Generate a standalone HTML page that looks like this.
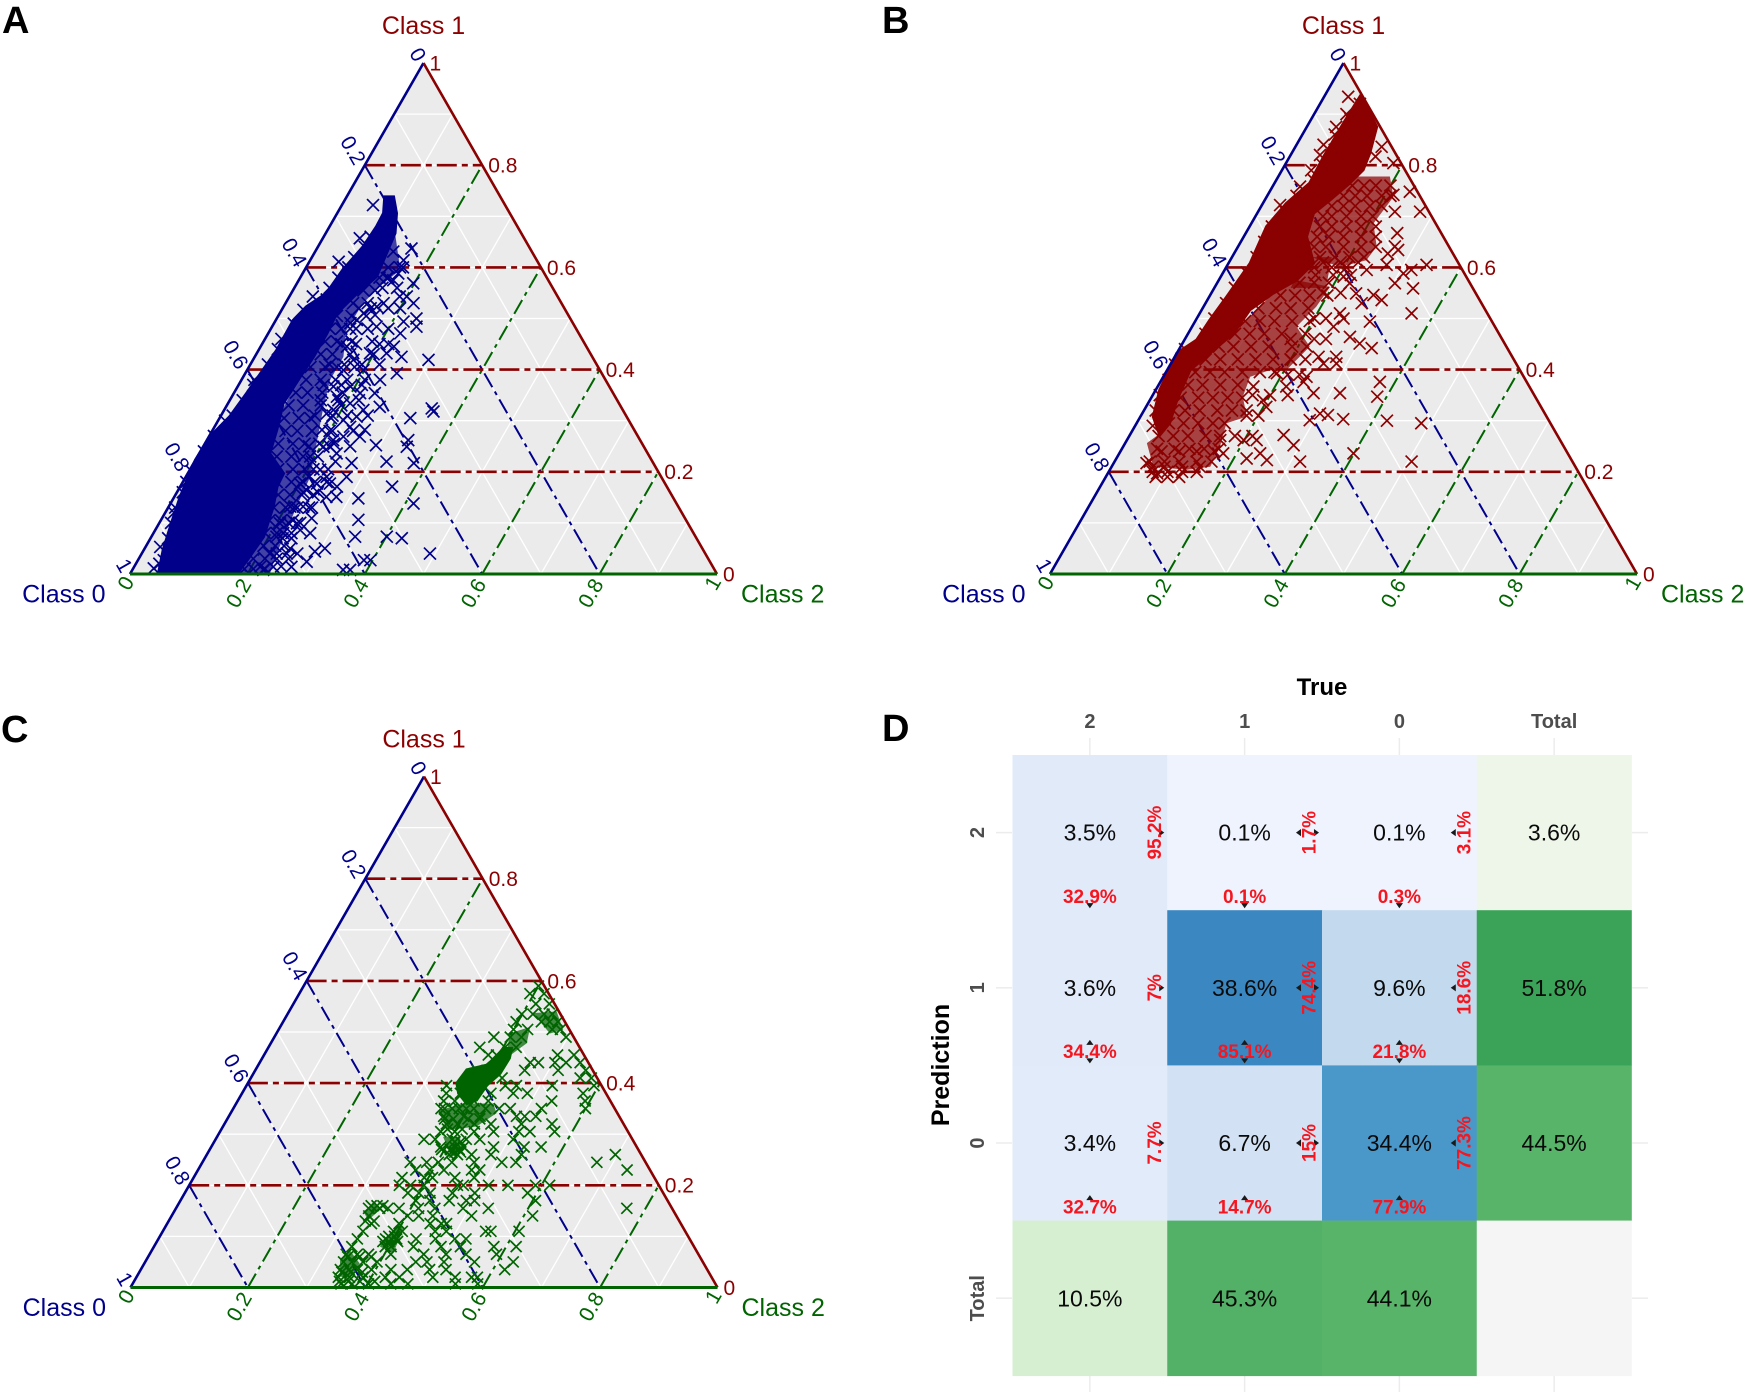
<!DOCTYPE html>
<html lang="en">
<head>
<meta charset="utf-8">
<title>Ternary plots and confusion matrix</title>
<style>
html,body{margin:0;padding:0;background:#fff;width:1748px;height:1395px;overflow:hidden}
svg{display:block;font-family:"Liberation Sans",sans-serif}
</style>
</head>
<body>
<svg id="figure" xmlns="http://www.w3.org/2000/svg" width="1748" height="1395" viewBox="0 0 1748 1395">
  <g font-size="38" font-weight="700" fill="#000">
    <text x="2" y="33">A</text>
    <text x="882" y="33">B</text>
    <text x="1" y="742">C</text>
    <text x="882" y="741">D</text>
  </g>
  <g id="panel-a"></g>
  <g id="panel-b"></g>
  <g id="panel-c"></g>
  <g id="panel-d"></g>
</svg>
<script>
// Ternary axis values
const ternaryMajorTicks = [0.2, 0.4, 0.6, 0.8];
const ternaryGridTicks = [0.1, 0.2, 0.3, 0.4, 0.5, 0.6, 0.7, 0.8, 0.9];
const ternaryTickLabels = ['0', '0.2', '0.4', '0.6', '0.8', '1'];

// Saturated cloud outlines: [class 2, class 1]
const coreA = [[.048,.001],[.033,.047],[.021,.099],[.01,.151],[0,.223],[.002,.269],[.016,.308],[.022,.354],[.027,.399],[.031,.438],[.03,.497],[.039,.523],[.06,.549],[.065,.595],[.077,.641],[.08,.68],[.079,.706],[.065,.738],[.08,.738],[.101,.706],[.118,.667],[.123,.628],[.129,.582],[.112,.549],[.097,.51],[.1,.471],[.1,.425],[.097,.386],[.094,.334],[.109,.282],[.12,.236],[.163,.197],[.165,.171],[.178,.132],[.191,.073],[.186,.027],[.182,.001]];
const coreB = [[.051,.272],[.022,.308],[.007,.36],[0,.432],[.021,.458],[.024,.497],[.03,.543],[.037,.608],[.029,.68],[.04,.725],[.06,.765],[.058,.817],[.059,.882],[.061,.934],[.088,.908],[.119,.875],[.133,.823],[.138,.791],[.128,.765],[.111,.732],[.096,.706],[.107,.66],[.145,.608],[.132,.575],[.105,.549],[.082,.517],[.077,.471],[.059,.438],[.039,.399],[.046,.34],[.056,.295]];
const coreC = [[.356,.4],[.36,.426],[.389,.435],[.398,.452],[.401,.468],[.415,.468],[.421,.449],[.42,.419],[.409,.396],[.406,.367],[.393,.36],[.369,.38]];

// Partly covered cloud outlines: lists of [class 2, class 1]
const haloA = [[[.101,.706],[.118,.667],[.163,.595],[.147,.569],[.132,.53],[.13,.477],[.151,.425],[.151,.38],[.166,.327],[.19,.256],[.212,.19],[.218,.132],[.224,.086],[.23,.04],[.238,.001],[.18,.001],[.1,.3],[.09,.5]]];
const haloB = [
  [[.12,.775],[.133,.778],[.19,.778],[.216,.738],[.208,.686],[.236,.641],[.232,.614],[.194,.601],[.12,.625],[.096,.693],[.105,.735]],
  [[.105,.549],[.132,.575],[.196,.562],[.192,.523],[.178,.484],[.22,.445],[.203,.399],[.175,.399],[.148,.386],[.155,.347],[.181,.308],[.153,.295],[.165,.249],[.168,.21],[.131,.204],[.071,.21],[.037,.256],[.05,.275],[.046,.34],[.039,.399],[.059,.438],[.077,.471]],
  [[.125,.62],[.17,.62],[.19,.56],[.13,.56]]
];
const haloC = [
  [[.417,.537],[.456,.54],[.485,.504],[.466,.497]],
  [[.385,.295],[.414,.295],[.432,.263],[.419,.256]],
  [[.384,.093],[.396,.126],[.408,.113],[.414,.067],[.385,.08]],
  [[.33,.054],[.337,.073],[.367,.047],[.363,.021],[.346,.021]],
  [[.323,.148],[.331,.165],[.349,.152],[.339,.132]],
  [[.353,.347],[.387,.36],[.438,.36],[.453,.341],[.432,.315],[.385,.308]],
  [[.397,.497],[.426,.51],[.436,.478],[.416,.449]]
];

// Points as rows: first number is class 1, the rest are class 2 values at that level
const rowsA = [
[.01,.19,.205,.225],[.03,.195,.215,.235,.255],[.055,.2,.22,.235],[.08,.19,.21,.235],[.105,.185,.205,.225],[.13,.18,.2,.22,.24],[.155,.175,.195,.215,.235],[.18,.16,.185,.205,.225,.245],[.205,.15,.175,.195,.21,.235],[.23,.135,.16,.18,.205],[.255,.125,.15,.17,.195,.22],[.28,.125,.145,.17,.205],[.305,.11,.135,.155,.19],[.33,.105,.13,.16,.195],[.355,.105,.125,.15,.185],[.38,.11,.135,.16,.18,.21],[.405,.105,.13,.15,.18],[.43,.11,.13,.16,.2],[.455,.105,.125,.15,.185],[.48,.1,.12,.145],[.505,.1,.125,.15],[.53,.115,.14],[.555,.12,.14],[.58,.135,.15],[.6,.14,.16],
[.722,.053],[.614,.159],[.637,.161],[.631,.133],[.579,.148],[.575,.161],[.588,.163],[.569,.198],[.543,.2,.188],[.53,.218,.167],[.523,.159],[.507,.164],[.497,.138],[.51,.143],[.491,.13],[.484,.178,.246],[.494,.219],[.5,.238],[.471,.225],[.445,.227,.147],[.432,.221,.193],[.425,.25],[.419,.299,.171],[.399,.198,.164],[.393,.258],[.38,.236],[.354,.24,.215],[.367,.163,.192],[.327,.262],[.321,.237,.186],[.308,.232],[.305,.325],[.324,.352],[.318,.358],[.282,.259,.186],[.288,.231],[.269,.229,.257],[.314,.178],[.236,.234],[.249,.205,.347],[.252,.293],[.262,.343,.215],[.217,.375,.269],[.22,.327],[.19,.274],[.177,.252,.23,.201],[.151,.259,.276],[.171,.361,.267],[.148,.315],[.138,.414],[.109,.255],[.132,.229,.207],[.106,.336],[.073,.347,.401,.213],[.08,.267,.221],[.086,.247],[.07,.428],[.05,.248,.307],[.044,.293],[.04,.491,.247,.218],[.024,.289],[.027,.385,.396],[.014,.268,.237],[.008,.359,.371,.223],[.347,.179],[.334,.208],[.301,.213],[.23,.192],[.204,.222],[.099,.206,.235],[.164,.219],
[.053,.025],[.011,.035],[.027,.044],[.543,.04],[.611,.05],[.657,.063],[.517,.037],[.12,.015],[.18,.006],[.3,.012],[.38,.022],[.46,.028],
[.02,.04],[.07,.03],[.1,.02],[.13,.012],[.16,.01],[.2,.006],[.24,.006],[.27,.008],[.31,.02],[.34,.022],[.37,.025],[.41,.03],[.44,.032],[.49,.034],[.56,.06],[.58,.065],[.6,.072],[.62,.072],[.64,.08],[.66,.08],
[.6,.165],[.56,.15,.175],[.52,.13,.15,.18,.2],[.48,.135,.165,.2],[.45,.135,.16,.2,.215],[.41,.135,.16,.19,.22],[.37,.145,.175,.21],[.34,.155,.185,.22],[.31,.16,.19,.215,.25],[.28,.17,.2,.24],[.25,.18,.215,.25],[.22,.2,.24],[.19,.21,.24],[.16,.215,.24],[.13,.215,.245],[.1,.22,.24],[.07,.225,.24],[.04,.23,.265],[.015,.215,.25]
];
const rowsB = [
[.76,.135,.155,.175,.2],[.74,.13,.15,.17,.195,.21],[.72,.12,.14,.16,.185,.205],[.7,.115,.13,.155,.18,.2],[.68,.12,.14,.165,.19,.215],[.66,.125,.145,.17,.2,.225],[.64,.13,.15,.18,.21,.235],[.62,.15,.175,.2,.225],[.6,.15,.18,.205],
[.57,.14,.165,.19],[.545,.12,.145,.17,.2],[.52,.095,.125,.15,.18],[.495,.085,.11,.135,.165,.195],[.47,.08,.105,.13,.16,.2],[.445,.065,.09,.12,.15,.19,.215],[.42,.055,.08,.11,.14,.17,.2],[.395,.05,.075,.1,.13,.16,.185],[.37,.05,.075,.105,.135],[.345,.05,.08,.105,.13,.155],[.32,.05,.07,.095,.125,.15,.175],[.295,.055,.08,.105,.13,.15],[.27,.05,.075,.1,.13,.155],[.245,.06,.09,.115,.14,.165],[.22,.06,.085,.11,.14,.165],[.2,.075,.1,.125,.15],
[.934,.041],[.875,.05],[.84,.046],[.758,.047],[.722,.031],[.836,.147],[.817,.146],[.804,.183],[.748,.239],[.709,.276,.233],[.742,.214],[.667,.258],[.641,.267],[.634,.276],[.627,.262],[.605,.271,.339],[.595,.242,.318],[.588,.308],[.569,.303,.226],[.559,.339],[.51,.361,.239],[.536,.297],[.546,.278],[.549,.247],[.582,.209],[.53,.266],[.5,.25],[.484,.241],[.494,.298],[.464,.279],[.451,.302],[.442,.327],[.425,.245,.275],[.412,.282,.26],[.386,.244],[.354,.272,.317],[.376,.244,.374],[.347,.384],[.314,.303],[.311,.318],[.301,.292],[.303,.348],[.3,.424],[.295,.485],[.272,.262],[.252,.289],[.236,.399,.24,.177],[.22,.506,.316],[.223,.258],[.226,.222],[.262,.221,.199,.159],[.197,.084],[.217,.056],[.327,.205],[.34,.193],[.367,.163,.219],[.393,.19],
[.29,.03],[.32,.02],[.35,.012],[.38,.012],[.41,.008],[.44,.01],[.47,.03],[.5,.03],[.53,.035],[.56,.035],[.59,.04],[.62,.042],[.65,.04],[.68,.038],[.71,.045],[.74,.05],[.77,.065],[.8,.065],[.83,.07],[.86,.07],[.89,.067],[.92,.068],[.79,.05],[.82,.05],[.86,.055],[.9,.055],
[.19,.085,.105,.125],[.21,.07,.09,.12,.15],[.24,.07,.1,.13,.16],
[.585,.16,.19,.22],[.61,.13,.16,.19,.22],[.55,.19,.22],[.5,.2,.22],[.46,.18,.22,.24],[.42,.2,.225],[.39,.21,.23],[.35,.17,.2,.23],[.31,.18,.2],[.27,.18,.21]
];
const rowsC = [
[.59,.4],[.575,.393,.417],[.555,.413,.436],[.535,.399,.418,.437,.451],[.52,.397,.44,.454,.468],[.505,.4,.424,.466,.48],[.49,.374,.402,.421,.497],[.47,.36,.403,.422],
[.455,.382,.396,.5,.528],[.44,.461,.475,.503,.522,.546],[.425,.378,.459,.516,.563],[.41,.381,.428,.561,.58],[.395,.341,.441,.46,.521,.592],[.38,.348,.372,.424,.462,.486,.581],
[.365,.351,.37,.403,.427,.535,.592],[.35,.354,.373,.397,.43,.453,.472,.525,.6],[.335,.366,.4,.428,.49,.504,.523],[.32,.378,.397,.426,.454,.506,.558],
[.305,.376,.4,.433,.466,.509,.528,.57],[.29,.355,.374,.403,.427,.45,.507],[.285,.41,.42],[.275,.391,.415,.43,.481,.533,.562],[.265,.415,.42,.43],[.26,.413,.427,.451,.484,.536,.696],
[.245,.354,.382,.402,.425,.463,.51,.534,.672],[.23,.371,.395,.419,.466,.48,.731],[.215,.355,.393,.407,.445,.478],[.2,.358,.377,.4,.457,.467,.51,.543,.59,.614],
[.185,.38,.399,.418,.456,.494,.584],[.17,.401,.425,.458,.487,.501,.605],[.155,.328,.347,.361,.38,.413,.441,.489,.532,.768],[.14,.336,.402,.421,.445,.511,.615],
[.125,.348,.395,.448,.467,.476],[.11,.341,.393,.408,.464,.483,.55,.559,.607],[.095,.339,.387,.406,.439,.472,.505,.524],[.08,.337,.394,.404,.442,.489,.522,.579,.617],
[.065,.335,.354,.373,.411,.467,.505,.539,.591],[.05,.338,.352,.371,.395,.461,.48,.509,.561,.627],[.035,.34,.355,.369,.393,.426,.454,.492,.52,.62],
[.02,.344,.363,.386,.424,.448,.505,.543,.571,.581],[.007,.355,.374,.402,.44,.469,.55,.588],
[.16,.33,.34,.35],[.13,.335,.35],[.09,.385,.395,.41],[.1,.39,.4],[.06,.34,.36,.38],[.03,.345,.36,.38],[.012,.35,.365,.385,.41],[.27,.395,.41,.425],[.33,.37,.385,.41,.43],[.35,.36,.385,.41],[.31,.385,.41]
];

// Confusion matrix values
const trueLabels = ['2', '1', '0', 'Total'];
const predictionLabels = ['2', '1', '0', 'Total'];
const cellPercent = [[3.5, 0.1, 0.1], [3.6, 38.6, 9.6], [3.4, 6.7, 34.4]];
const rowPercent = [[95.2, 1.7, 3.1], [7, 74.4, 18.6], [7.7, 15, 77.3]];
const columnPercent = [[32.9, 0.1, 0.3], [34.4, 85.1, 21.8], [32.7, 14.7, 77.9]];
const rowTotals = [3.6, 51.8, 44.5];
const columnTotals = [10.5, 45.3, 44.1];

const NS = 'http://www.w3.org/2000/svg';
const NAVY = '#00008b', MAROON = '#8b0000', FOREST = '#006400';

function make(parent, tag, attrs, text) {
  const el = document.createElementNS(NS, tag);
  for (const k in attrs) el.setAttribute(k, attrs[k]);
  if (text !== undefined) el.textContent = text;
  parent.appendChild(el);
  return el;
}

function drawTernary(root, p, halos, core, rows, color) {
  const X = (c2, c1) => p.x0 + (c2 + c1 / 2) * p.w;
  const Y = c1 => p.y0 - c1 * p.h;
  const apex = [X(0, 1), Y(1)], left = [X(0, 0), Y(0)], right = [X(1, 0), Y(0)];

  const bg = make(root, 'polygon', {points: [apex, left, right].map(q => q.join(',')).join(' '), fill: '#ebebeb'});
  
  

  const segment = (a, b, stroke, width, dash) => {
    const attrs = {x1: a[0], y1: a[1], x2: b[0], y2: b[1], stroke: stroke, 'stroke-width': width, fill: 'none'};
    if (dash) attrs['stroke-dasharray'] = dash;
    return make(root, 'line', attrs);
  };
  ternaryGridTicks.forEach(v => {
    const g1 = segment([X(0, v), Y(v)], [X(1 - v, v), Y(v)], '#fff', 1.3);
    
    
    const g2 = segment([X(v, 0), Y(0)], [X(v, 1 - v), Y(1 - v)], '#fff', 1.3);
    
    
    const g0 = segment([X(0, 1 - v), Y(1 - v)], [X(1 - v, 0), Y(0)], '#fff', 1.3);
    
    
  });
  ternaryMajorTicks.forEach(v => {
    const blue = segment([X(0, 1 - v), Y(1 - v)], [X(1 - v, 0), Y(0)], NAVY, 2, '16 5 4 5');
    
    
    const green = segment([X(v, 0), Y(0)], [X(v, 1 - v), Y(1 - v)], FOREST, 2, '16 5 4 5');
    
    
  });
  ternaryMajorTicks.forEach(v => {
    const red = segment([X(0, v), Y(v)], [X(1 - v, v), Y(v)], MAROON, 2.6, '20 5 6 5');
    
    
  });

  halos.forEach(outline => {
    const halo = make(root, 'polygon', {points: outline.map(q => X(q[0], q[1]) + ',' + Y(q[1])).join(' '), fill: color, 'fill-opacity': 0.72});
    
    
  });

  const cloud = make(root, 'polygon', {points: core.map(q => X(q[0], q[1]) + ',' + Y(q[1])).join(' '), fill: color, stroke: color, 'stroke-width': 3});
  
  

  const size = p.mark;
  rows.forEach(row => {
    const c1 = row[0];
    row.slice(1).forEach(c2 => {
      const px = X(c2, c1), py = Y(c1);
      const mark = make(root, 'path', {d: `M${px - size},${py - size}L${px + size},${py + size}M${px - size},${py + size}L${px + size},${py - size}`, stroke: color, 'stroke-width': 1.7, fill: 'none'});
      
      
    });
  });

  const leftAxis = segment(left, apex, NAVY, 2.6);
  
  
  const rightAxis = segment(apex, right, MAROON, 2.6);
  
  
  const bottomAxis = segment(left, right, FOREST, 3);
  
  

  ternaryTickLabels.forEach(label => {
    const v = parseFloat(label);
    const isEnd = v === 0 || v === 1;
    // Class 0 labels along the left edge
    const bx = X(0, 1 - v) + (isEnd ? -5.5 : -11.5), by = Y(1 - v) + (isEnd ? -8.5 : -15);
    const blue = make(root, 'text', {x: bx, y: by, dy: '.35em', 'text-anchor': 'middle', 'font-size': 21, fill: NAVY, transform: `rotate(60 ${bx} ${by})`}, label);
    
    
    // Class 1 labels along the right edge
    const rx = X(1 - v, v) + 6, ry = Y(v);
    const red = make(root, 'text', {x: rx, y: ry, dy: '.35em', 'font-size': 21, fill: MAROON}, label);
    
    
    // Class 2 labels along the bottom edge
    const gx = X(v, 0) + (isEnd ? -4.5 : -9), gy = Y(0) + (isEnd ? 9 : 19);
    const green = make(root, 'text', {x: gx, y: gy, dy: '.35em', 'text-anchor': 'middle', 'font-size': 21, fill: FOREST, transform: `rotate(-60 ${gx} ${gy})`}, label);
    
    
  });

  const top = make(root, 'text', {x: apex[0], y: apex[1] - 29, 'text-anchor': 'middle', 'font-size': 25, fill: MAROON}, 'Class 1');
  
  
  const lbl0 = make(root, 'text', {x: left[0] - 24.5, y: left[1] + 28.5, 'text-anchor': 'end', 'font-size': 25, fill: NAVY}, 'Class 0');
  
  
  const lbl2 = make(root, 'text', {x: right[0] + 24, y: right[1] + 28.5, 'font-size': 25, fill: FOREST}, 'Class 2');
  
  
}

drawTernary(document.getElementById('panel-a'), {x0: 130, y0: 574, w: 587, h: 511, mark: 6}, haloA, coreA, rowsA, NAVY);
drawTernary(document.getElementById('panel-b'), {x0: 1050, y0: 574, w: 587, h: 511, mark: 6}, haloB, coreB, rowsB, MAROON);
drawTernary(document.getElementById('panel-c'), {x0: 130.5, y0: 1287.5, w: 587, h: 511, mark: 5.5}, haloC, coreC, rowsC, FOREST);

// Colour scales for the confusion matrix
const blueStops = [[0, '#f0f4ff'], [0.1, '#eff3fe'], [3.6, '#e0eaf9'], [6.7, '#d2e1f3'], [9.6, '#c3d9ee'], [34.4, '#4a98ca'], [38.6, '#3b87c1']];
const greenStops = [[3.6, '#edf6e8'], [10.5, '#d7efd1'], [44.1, '#57b468'], [44.5, '#57b468'], [45.3, '#52b166'], [51.8, '#3aa357']];
function hexToRgb(h) { return [1, 3, 5].map(i => parseInt(h.substr(i, 2), 16)); }
function scale(stops, v) {
  for (let i = 1; i < stops.length; i++) {
    if (v <= stops[i][0]) {
      const t = (v - stops[i - 1][0]) / (stops[i][0] - stops[i - 1][0]);
      const a = hexToRgb(stops[i - 1][1]), b = hexToRgb(stops[i][1]);
      return 'rgb(' + a.map((c, k) => Math.round(c + (b[k] - c) * Math.max(0, t))).join(',') + ')';
    }
  }
  return stops[stops.length - 1][1];
}

(function drawMatrix() {
  const root = document.getElementById('panel-d');
  const x0 = 1012.5, y0 = 755, cw = 154.75, ch = 155.2;
  const cx = c => x0 + (c + 0.5) * cw;
  const cy = r => y0 + (r + 0.5) * ch;

  trueLabels.forEach((label, c) => {
    [[738, 755], [1376, 1392]].forEach(s => {
      const tick = make(root, 'line', {x1: cx(c), x2: cx(c), y1: s[0], y2: s[1], stroke: '#ececec', 'stroke-width': 1.5});
      
      
    });
    const t = make(root, 'text', {x: cx(c), y: 728, 'text-anchor': 'middle', 'font-size': 20, 'font-weight': 700, fill: '#4d4d4d'}, label);
    
    
  });
  predictionLabels.forEach((label, r) => {
    [[996, 1012], [1632, 1648]].forEach(s => {
      const tick = make(root, 'line', {x1: s[0], x2: s[1], y1: cy(r), y2: cy(r), stroke: '#ececec', 'stroke-width': 1.5});
      
      
    });
    const t = make(root, 'text', {x: 977, y: cy(r), dy: '.35em', 'text-anchor': 'middle', 'font-size': 20, 'font-weight': 700, fill: '#4d4d4d', transform: `rotate(-90 977 ${cy(r)})`}, label);
    
    
  });

  const title = make(root, 'text', {x: 1322, y: 695, 'text-anchor': 'middle', 'font-size': 24, 'font-weight': 700, fill: '#000'}, 'True');
  
  
  const ytitle = make(root, 'text', {x: 940, y: 1065, dy: '.35em', 'text-anchor': 'middle', 'font-size': 25, 'font-weight': 700, fill: '#000', transform: 'rotate(-90 940 1065)'}, 'Prediction');
  
  

  const tile = (c, r, fill) => {
    const el = make(root, 'rect', {x: x0 + c * cw, y: y0 + r * ch, width: cw + 0.3, height: ch + 0.3, fill: fill});
    
    
  };
  const value = (c, r, v) => {
    const el = make(root, 'text', {x: cx(c), y: cy(r), dy: '.35em', 'text-anchor': 'middle', 'font-size': 23, fill: '#0a0a0a'}, v + '%');
    
    
  };

  cellPercent.forEach((row, r) => row.forEach((v, c) => tile(c, r, scale(blueStops, v))));
  rowTotals.forEach((v, r) => tile(3, r, scale(greenStops, v)));
  columnTotals.forEach((v, c) => tile(c, 3, scale(greenStops, v)));
  tile(3, 3, '#f5f5f5');

  const arrow = (px, py, dir) => {
    const s = 3.6;
    const pts = {
      up: [[px - s, py + s * 0.7], [px + s, py + s * 0.7], [px, py - s * 0.7]],
      down: [[px - s, py - s * 0.7], [px + s, py - s * 0.7], [px, py + s * 0.7]],
      left: [[px + s * 0.7, py - s], [px + s * 0.7, py + s], [px - s * 0.7, py]],
      right: [[px - s * 0.7, py - s], [px - s * 0.7, py + s], [px + s * 0.7, py]]
    }[dir];
    const el = make(root, 'polygon', {points: pts.map(q => q.join(',')).join(' '), fill: '#1a1a1a'});
    
    
  };

  cellPercent.forEach((row, r) => row.forEach((v, c) => {
    value(c, r, v);
    const right = x0 + (c + 1) * cw, bottom = y0 + (r + 1) * ch;
    if (c < 2) arrow(right - 5.5, cy(r), 'right');
    if (c > 0) arrow(right - 23.5, cy(r), 'left');
    if (r > 0) arrow(cx(c), bottom - 23, 'up');
    if (r < 2) arrow(cx(c), bottom - 4.5, 'down');

    const below = make(root, 'text', {x: cx(c), y: bottom - 14, dy: '.35em', 'text-anchor': 'middle', 'font-size': 19, 'font-weight': 700, fill: '#f5161f'}, columnPercent[r][c] + '%');
    
    
    const sx = right - 13, sy = cy(r);
    const side = make(root, 'text', {x: sx, y: sy, dy: '.35em', 'text-anchor': 'middle', 'font-size': 19, 'font-weight': 700, fill: '#f5161f', transform: `rotate(-90 ${sx} ${sy})`}, rowPercent[r][c] + '%');
    
    
  }));
  rowTotals.forEach((v, r) => value(3, r, v));
  columnTotals.forEach((v, c) => value(c, 3, v));
})();
</script>
</body>
</html>
